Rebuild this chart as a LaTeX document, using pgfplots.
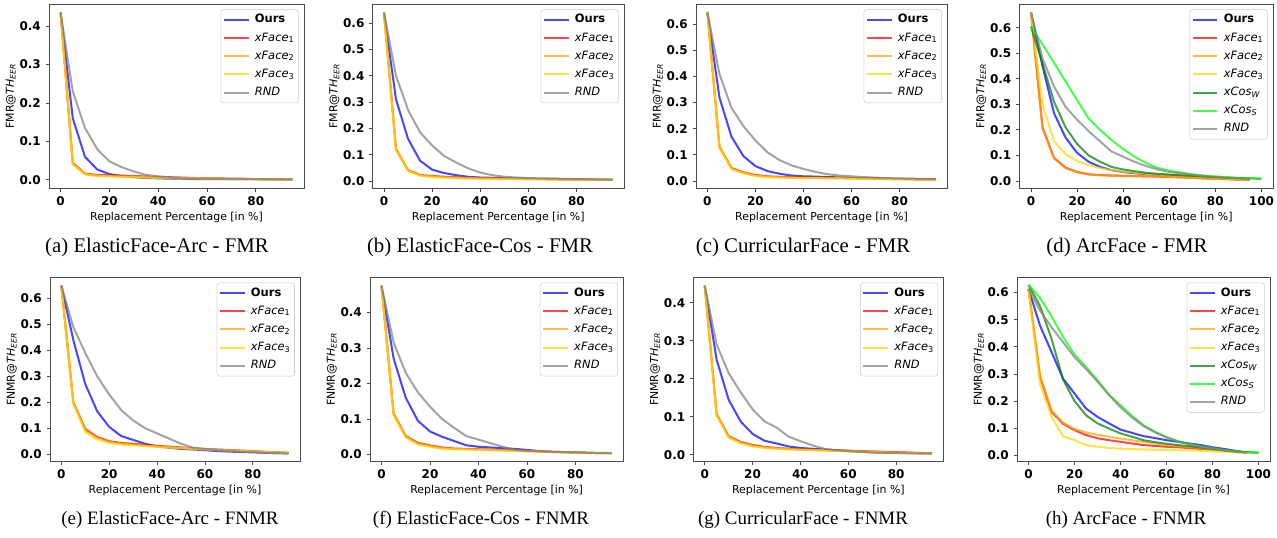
\documentclass[border=0pt]{standalone}
\usepackage{fontspec}
\setmainfont{DejaVu Sans}
\newfontfamily\capfont{Liberation Serif}
\usepackage{pgfplots}
\usepackage{pgfplotstable}
\pgfplotsset{compat=1.18}

\definecolor{cOurs}{RGB}{0,0,255}
\definecolor{cXa}{RGB}{255,0,0}
\definecolor{cXb}{RGB}{255,165,0}
\definecolor{cXc}{RGB}{255,215,0}
\definecolor{cCw}{RGB}{0,128,0}
\definecolor{cCs}{RGB}{0,255,0}
\definecolor{cRnd}{RGB}{128,128,128}

% ---- data: x ours xFace1 xFace2 xFace3 RND ----
\pgfplotstableread{
x ours x1 x2 x3 rnd
0 0.435 0.435 0.435 0.435 0.435
5 0.160 0.044 0.042 0.040 0.230
10 0.060 0.016 0.015 0.014 0.135
15 0.027 0.013 0.011 0.010 0.080
20 0.015 0.012 0.010 0.009 0.048
25 0.010 0.011 0.009 0.008 0.033
30 0.007 0.010 0.008 0.007 0.022
35 0.005 0.009 0.007 0.006 0.013
40 0.004 0.008 0.006 0.005 0.009
45 0.003 0.007 0.005 0.005 0.006
50 0.003 0.006 0.005 0.004 0.004
55 0.002 0.005 0.004 0.004 0.003
60 0.002 0.004 0.004 0.003 0.003
65 0.002 0.004 0.003 0.003 0.003
70 0.002 0.003 0.003 0.002 0.002
75 0.002 0.003 0.002 0.002 0.002
80 0.002 0.002 0.002 0.002 0.002
85 0.001 0.002 0.002 0.001 0.002
90 0.001 0.001 0.001 0.001 0.002
95 0.001 0.001 0.001 0.001 0.001
}\tA
\pgfplotstableread{
x ours x1 x2 x3 rnd
0 0.640 0.640 0.640 0.640 0.640
5 0.310 0.122 0.120 0.118 0.400
10 0.160 0.041 0.040 0.038 0.270
15 0.077 0.023 0.022 0.020 0.185
20 0.043 0.019 0.017 0.015 0.135
25 0.030 0.016 0.014 0.012 0.095
30 0.022 0.014 0.012 0.010 0.070
35 0.016 0.012 0.011 0.009 0.048
40 0.013 0.011 0.010 0.008 0.032
45 0.012 0.010 0.009 0.008 0.022
50 0.011 0.009 0.008 0.007 0.016
55 0.010 0.008 0.008 0.007 0.013
60 0.009 0.008 0.007 0.006 0.011
65 0.008 0.007 0.007 0.006 0.010
70 0.008 0.007 0.006 0.005 0.009
75 0.007 0.006 0.006 0.005 0.008
80 0.007 0.006 0.005 0.005 0.007
85 0.006 0.005 0.005 0.004 0.006
90 0.005 0.005 0.004 0.004 0.005
95 0.005 0.004 0.004 0.004 0.005
}\tB
\pgfplotstableread{
x ours x1 x2 x3 rnd
0 0.645 0.645 0.645 0.645 0.645
5 0.320 0.132 0.130 0.128 0.410
10 0.170 0.050 0.048 0.046 0.280
15 0.095 0.033 0.031 0.029 0.210
20 0.057 0.023 0.021 0.019 0.155
25 0.038 0.018 0.016 0.015 0.110
30 0.028 0.016 0.014 0.013 0.080
35 0.021 0.015 0.013 0.012 0.060
40 0.018 0.014 0.012 0.011 0.046
45 0.017 0.013 0.012 0.011 0.035
50 0.015 0.013 0.011 0.010 0.026
55 0.014 0.012 0.011 0.010 0.021
60 0.012 0.011 0.010 0.009 0.018
65 0.011 0.010 0.009 0.008 0.015
70 0.010 0.009 0.008 0.008 0.013
75 0.009 0.008 0.008 0.007 0.011
80 0.008 0.008 0.007 0.006 0.010
85 0.008 0.007 0.006 0.006 0.009
90 0.007 0.006 0.006 0.005 0.008
95 0.007 0.005 0.005 0.005 0.008
}\tC
\pgfplotstableread{
x ours x1 x2 x3 rnd
0 0.660 0.660 0.660 0.660 0.660
5 0.450 0.210 0.205 0.300 0.480
10 0.265 0.090 0.088 0.155 0.370
15 0.170 0.052 0.050 0.105 0.290
20 0.110 0.035 0.034 0.078 0.240
25 0.075 0.026 0.025 0.062 0.195
30 0.055 0.023 0.022 0.050 0.155
35 0.042 0.021 0.021 0.042 0.115
40 0.035 0.020 0.020 0.036 0.095
45 0.030 0.019 0.019 0.032 0.075
50 0.027 0.018 0.018 0.028 0.058
55 0.024 0.017 0.017 0.025 0.045
60 0.022 0.015 0.016 0.022 0.035
65 0.020 0.014 0.014 0.020 0.030
70 0.018 0.012 0.012 0.017 0.025
75 0.015 0.010 0.010 0.015 0.020
80 0.013 0.008 0.008 0.012 0.015
85 0.011 0.007 0.007 0.010 0.012
90 0.010 0.005 0.005 0.008 0.010
95 0.008 0.004 0.004 0.006 0.008
}\tD
\pgfplotstableread{
x w s
0 0.605 0.605
5 0.460 0.535
10 0.310 0.463
15 0.210 0.390
20 0.145 0.317
25 0.100 0.245
30 0.075 0.200
35 0.055 0.160
40 0.045 0.125
45 0.038 0.095
50 0.032 0.070
55 0.028 0.051
60 0.025 0.040
65 0.022 0.033
70 0.020 0.026
75 0.017 0.021
80 0.015 0.018
85 0.013 0.015
90 0.011 0.012
95 0.010 0.010
100 0.009 0.009
}\tDc
\pgfplotstableread{
x ours x1 x2 x3 rnd
0 0.650 0.650 0.650 0.650 0.650
5 0.440 0.200 0.198 0.195 0.490
10 0.270 0.097 0.092 0.085 0.390
15 0.165 0.066 0.062 0.057 0.300
20 0.105 0.050 0.047 0.043 0.230
25 0.070 0.043 0.040 0.037 0.170
30 0.055 0.040 0.037 0.034 0.130
35 0.040 0.036 0.033 0.031 0.100
40 0.030 0.032 0.030 0.028 0.080
45 0.025 0.029 0.027 0.025 0.060
50 0.020 0.026 0.025 0.023 0.040
55 0.018 0.023 0.022 0.020 0.025
60 0.015 0.020 0.019 0.018 0.020
65 0.012 0.018 0.017 0.016 0.016
70 0.010 0.016 0.015 0.014 0.013
75 0.008 0.014 0.013 0.012 0.010
80 0.007 0.012 0.011 0.010 0.008
85 0.005 0.009 0.009 0.008 0.006
90 0.004 0.007 0.007 0.006 0.004
95 0.003 0.005 0.005 0.004 0.003
}\tE
\pgfplotstableread{
x ours x1 x2 x3 rnd
0 0.475 0.475 0.475 0.475 0.475
5 0.270 0.115 0.113 0.111 0.315
10 0.160 0.052 0.050 0.048 0.230
15 0.095 0.033 0.031 0.028 0.175
20 0.065 0.026 0.024 0.022 0.135
25 0.050 0.020 0.018 0.016 0.100
30 0.038 0.017 0.016 0.015 0.075
35 0.026 0.016 0.015 0.014 0.052
40 0.022 0.015 0.014 0.013 0.042
45 0.020 0.014 0.013 0.012 0.032
50 0.018 0.013 0.012 0.011 0.022
55 0.016 0.012 0.011 0.010 0.013
60 0.013 0.011 0.010 0.009 0.010
65 0.010 0.009 0.009 0.008 0.009
70 0.008 0.008 0.008 0.007 0.007
75 0.007 0.007 0.007 0.006 0.007
80 0.006 0.006 0.006 0.005 0.006
85 0.005 0.005 0.005 0.005 0.005
90 0.004 0.005 0.004 0.004 0.004
95 0.004 0.004 0.004 0.004 0.004
}\tF
\pgfplotstableread{
x ours x1 x2 x3 rnd
0 0.445 0.445 0.445 0.445 0.445
5 0.250 0.107 0.105 0.103 0.290
10 0.145 0.049 0.047 0.045 0.215
15 0.088 0.034 0.032 0.030 0.165
20 0.055 0.026 0.024 0.022 0.120
25 0.037 0.021 0.019 0.018 0.088
30 0.030 0.018 0.017 0.016 0.072
35 0.022 0.016 0.015 0.014 0.048
40 0.018 0.015 0.014 0.013 0.036
45 0.016 0.014 0.013 0.012 0.025
50 0.014 0.013 0.012 0.011 0.016
55 0.012 0.012 0.011 0.010 0.012
60 0.010 0.011 0.010 0.009 0.010
65 0.008 0.010 0.009 0.008 0.008
70 0.007 0.009 0.008 0.007 0.006
75 0.006 0.008 0.007 0.006 0.005
80 0.005 0.007 0.006 0.005 0.005
85 0.005 0.006 0.005 0.005 0.004
90 0.004 0.005 0.005 0.004 0.004
95 0.004 0.004 0.004 0.004 0.004
}\tG
\pgfplotstableread{
x ours x1 x2 x3 rnd
0 0.613 0.613 0.613 0.613 0.613
5 0.478 0.290 0.295 0.264 0.534
10 0.381 0.160 0.166 0.142 0.472
15 0.283 0.117 0.120 0.071 0.417
20 0.228 0.093 0.097 0.056 0.362
25 0.173 0.075 0.085 0.038 0.318
30 0.142 0.063 0.076 0.032 0.272
35 0.118 0.056 0.069 0.028 0.222
40 0.095 0.050 0.062 0.025 0.177
45 0.083 0.044 0.056 0.023 0.140
50 0.071 0.038 0.050 0.022 0.108
55 0.064 0.035 0.044 0.021 0.085
60 0.056 0.032 0.038 0.020 0.066
65 0.050 0.030 0.034 0.019 0.051
70 0.044 0.027 0.031 0.018 0.041
75 0.038 0.024 0.027 0.017 0.032
80 0.030 0.021 0.023 0.015 0.025
85 0.024 0.018 0.019 0.013 0.019
90 0.017 0.014 0.015 0.011 0.014
95 0.011 0.010 0.010 0.009 0.010
}\tH
\pgfplotstableread{
x w s
0 0.628 0.628
5 0.550 0.580
10 0.430 0.512
15 0.280 0.436
20 0.200 0.372
25 0.148 0.326
30 0.118 0.277
35 0.099 0.224
40 0.081 0.185
45 0.069 0.146
50 0.056 0.111
55 0.049 0.087
60 0.043 0.068
65 0.038 0.053
70 0.034 0.042
75 0.029 0.033
80 0.024 0.026
85 0.019 0.020
90 0.015 0.015
95 0.012 0.012
100 0.010 0.010
}\tHc

\pgfplotsset{
  panel/.style={
    scale only axis, anchor=south west,
    xmin=-4.75, xmax=99.75,
    xtick={0,20,40,60,80},
    ytick={0,0.1,0.2,0.3,0.4,0.5,0.6},
    axis line style={black!70, line width=0.6pt},
    tick align=outside, tick pos=left,
    major tick length=2.6pt,
    tick style={black!70, line width=0.6pt},
    /pgf/number format/assume math mode=true,
    yticklabel style={/pgf/number format/.cd, fixed, fixed zerofill, precision=1},
    tick label style={font=\bfseries\fontsize{9}{10}\selectfont},
    label style={font=\fontsize{8.2}{9.8}\selectfont},
    xlabel={Replacement Percentage [in \%]},
    xlabel style={yshift=2pt},
    ylabel style={yshift=-4pt},
    legend style={at={(0.979,0.971)}, anchor=north east, draw=black!20,
      rounded corners=2pt, fill=white, fill opacity=0.8, text opacity=1,
      font=\fontsize{8.6}{10}\selectfont, inner xsep=1.5pt, inner ysep=2pt,
      row sep=2.1pt,
      nodes={inner sep=1.5pt, text height=6.4pt, text depth=2.1pt}},
    legend cell align=left,
    legend image code/.code={\draw[##1] (0pt,0pt) -- (18.5pt,0pt);},
    /tikz/every odd column/.append style={column sep=2.5pt},
    every axis plot/.append style={line width=1.5pt, draw opacity=0.72, no markers},
  },
  wide/.style={xmin=-5, xmax=105, xtick={0,20,40,60,80,100}},
  fmr/.style={ylabel={FMR@\textit{TH}\textsubscript{\textit{EER}}}},
  fnmr/.style={ylabel={FNMR@\textit{TH}\textsubscript{\textit{EER}}}},
}

\newcommand{\fiveplots}[1]{%
  \addplot[cOurs] table[x=x,y=ours]{#1};
  \addplot[cXa] table[x=x,y=x1]{#1};
  \addplot[cXb] table[x=x,y=x2]{#1};
  \addplot[cXc] table[x=x,y=x3]{#1};
  \addplot[cRnd] table[x=x,y=rnd]{#1};
  \legend{\textbf{Ours}, \textit{xFace}\textsubscript{1}, \textit{xFace}\textsubscript{2}, \textit{xFace}\textsubscript{3}, \textit{RND}}
}
\newcommand{\sevenplots}[2]{%
  \addplot[cOurs] table[x=x,y=ours]{#1};
  \addplot[cXa] table[x=x,y=x1]{#1};
  \addplot[cXb] table[x=x,y=x2]{#1};
  \addplot[cXc] table[x=x,y=x3]{#1};
  \addplot[cCw] table[x=x,y=w]{#2};
  \addplot[cCs] table[x=x,y=s]{#2};
  \addplot[cRnd] table[x=x,y=rnd]{#1};
  \legend{\textbf{Ours}, \textit{xFace}\textsubscript{1}, \textit{xFace}\textsubscript{2}, \textit{xFace}\textsubscript{3}, \textit{xCos}\textsubscript{\textit{W}}, \textit{xCos}\textsubscript{\textit{S}}, \textit{RND}}
}

\begin{document}
\begin{tikzpicture}
\path[use as bounding box] (0,0) rectangle (957.75pt,402.75pt);

% top row: FMR
\begin{axis}[panel, fmr, at={(36.75pt,261.5pt)}, width=191.25pt, height=138.2pt, ymin=-0.022, ymax=0.457]
\fiveplots{\tA}
\end{axis}
\begin{axis}[panel, fmr, at={(279.4pt,261.5pt)}, width=188.6pt, height=138.2pt, ymin=-0.028, ymax=0.672]
\fiveplots{\tB}
\end{axis}
\begin{axis}[panel, fmr, at={(522pt,261.5pt)}, width=188.25pt, height=138.2pt, ymin=-0.028, ymax=0.677]
\fiveplots{\tC}
\end{axis}
\begin{axis}[panel, wide, fmr, at={(764.6pt,261.5pt)}, width=190.1pt, height=138.2pt, ymin=-0.029, ymax=0.693]
\sevenplots{\tD}{\tDc}
\end{axis}

% bottom row: FNMR
\begin{axis}[panel, fnmr, at={(37.5pt,56.5pt)}, width=187.5pt, height=138.3pt, ymin=-0.029, ymax=0.682]
\fiveplots{\tE}
\end{axis}
\begin{axis}[panel, fnmr, at={(277.5pt,56.5pt)}, width=190pt, height=138.3pt, ymin=-0.020, ymax=0.499]
\fiveplots{\tF}
\end{axis}
\begin{axis}[panel, fnmr, at={(520pt,56.5pt)}, width=187.5pt, height=138.3pt, ymin=-0.018, ymax=0.467]
\fiveplots{\tG}
\end{axis}
\begin{axis}[panel, wide, fnmr, at={(762.75pt,56.5pt)}, width=189.75pt, height=138.3pt, ymin=-0.023, ymax=0.656]
\sevenplots{\tH}{\tHc}
\end{axis}

% captions
\begin{scope}[every node/.style={font=\capfont\fontsize{15.6}{18}\selectfont, inner sep=0pt}]
\node at (117.75pt,217.5pt) {(a) ElasticFace-Arc - FMR};
\node at (360pt,217.5pt) {(b) ElasticFace-Cos - FMR};
\node at (602.25pt,217.5pt) {(c) CurricularFace - FMR};
\node at (845.25pt,217.5pt) {(d) ArcFace - FMR};
\end{scope}
\begin{scope}[every node/.style={font=\capfont\fontsize{14.2}{17}\selectfont, inner sep=0pt}]
\node at (127.5pt,12.75pt) {(e) ElasticFace-Arc - FNMR};
\node at (360.75pt,12.75pt) {(f) ElasticFace-Cos - FNMR};
\node at (602.25pt,12.75pt) {(g) CurricularFace - FNMR};
\node at (844.5pt,12.75pt) {(h) ArcFace - FNMR};
\end{scope}
\end{tikzpicture}
\end{document}
